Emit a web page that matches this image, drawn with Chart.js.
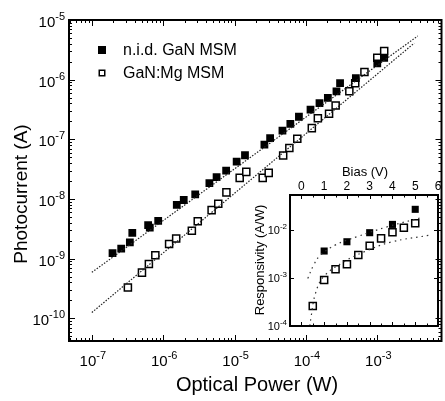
<!DOCTYPE html>
<html>
<head>
<meta charset="utf-8">
<script src="https://cdn.jsdelivr.net/npm/chart.js@4.4.0/dist/chart.umd.min.js"></script>
<style>
html, body { margin: 0; padding: 0; background: #fff; overflow: hidden }
#wrap { position: relative; width: 445px; height: 401px; overflow: hidden }
#main { position: absolute; left: 0; top: 0 }
#inset { position: absolute; left: 245px; top: 160px }
</style>
</head>
<body>
<div id="wrap">
  <canvas id="main" width="448" height="401"></canvas>
  <canvas id="inset" width="200" height="185"></canvas>
</div>
<script>
// main plot: photocurrent vs optical power
const nidPower = [1.95e-7, 2.58e-7, 3.41e-7, 3.69e-7, 6.15e-7, 6.49e-7, 8.51e-7, 1.55e-6, 1.94e-6, 2.81e-6,
    4.44e-6, 5.6e-6, 7.62e-6, 1.07e-5, 1.4e-5, 2.62e-5, 3.15e-5, 4.69e-5, 6.05e-5, 7.98e-5,
    1.16e-4, 1.55e-4, 2.03e-4, 2.68e-4, 3.01e-4, 5.01e-4, 1.0e-3, 1.25e-3]
const nidCurrent = [1.24e-9, 1.47e-9, 1.88e-9, 2.71e-9, 3.65e-9, 3.32e-9, 4.3e-9, 7.94e-9, 9.62e-9, 1.2e-8,
    1.85e-8, 2.33e-8, 2.99e-8, 4.22e-8, 5.41e-8, 8.16e-8, 1.05e-7, 1.4e-7, 1.81e-7, 2.39e-7,
    3.16e-7, 4.03e-7, 4.95e-7, 6.38e-7, 8.74e-7, 1.06e-6, 1.87e-6, 2.33e-6]
const mgPower = [3.2e-7, 5.04e-7, 6.3e-7, 7.76e-7, 1.21e-6, 1.52e-6, 2.52e-6, 3.05e-6, 4.77e-6, 5.91e-6,
    7.69e-6, 1.18e-5, 1.46e-5, 2.48e-5, 3.01e-5, 4.8e-5, 5.86e-5, 7.57e-5, 1.21e-4, 1.47e-4,
    2.11e-4, 2.61e-4, 4.06e-4, 4.91e-4, 6.61e-4, 1.0e-3, 1.25e-3]
const mgCurrent = [3.29e-10, 5.84e-10, 8.16e-10, 1.14e-9, 1.76e-9, 2.17e-9, 2.93e-9, 4.23e-9, 6.51e-9, 8.35e-9,
    1.29e-8, 2.26e-8, 2.85e-8, 2.26e-8, 2.74e-8, 5.37e-8, 7.16e-8, 1.02e-7, 1.54e-7, 2.26e-7,
    2.69e-7, 3.69e-7, 6.38e-7, 8.68e-7, 1.34e-6, 2.33e-6, 3.01e-6]
const nidFitPower = [1e-7, 3.7e-3]
const nidFitCurrent = [5.9e-10, 5.4e-6]
const mgFitPower = [1e-7, 3.3e-3]
const mgFitCurrent = [1.25e-10, 4.1e-6]
const powerTicks = [1e-7, 1e-6, 1e-5, 1e-4, 1e-3]
const currentTicks = [1e-10, 1e-9, 1e-8, 1e-7, 1e-6, 1e-5]
const seriesNames = ["n.i.d. GaN MSM", "GaN:Mg MSM"]

// inset: responsivity vs bias
const nidBias = [1, 2, 3, 4, 5]
const nidResp = [3.65e-3, 5.7e-3, 8.8e-3, 1.31e-2, 2.7e-2]
const mgBias = [0.5, 1, 1.5, 2, 2.5, 3, 3.5, 4, 4.5, 5]
const mgResp = [2.61e-4, 9.1e-4, 1.52e-3, 1.93e-3, 3.01e-3, 4.71e-3, 6.7e-3, 8.96e-3, 1.12e-2, 1.38e-2]
const nidFitBias = [0.28, 0.54, 0.84, 1.5, 2.46, 3.78, 5.32]
const nidFitResp = [9.8e-4, 1.87e-3, 3.0e-3, 4.9e-3, 7.3e-3, 1.17e-2, 1.84e-2]
const mgFitBias = [0.37, 0.43, 0.62, 0.98, 1.87, 2.75, 3.93, 5.69]
const mgFitResp = [1e-4, 1.6e-4, 4.8e-4, 1.07e-3, 2.18e-3, 3.5e-3, 5.6e-3, 7.9e-3]
const biasTicks = [0, 1, 2, 3, 4, 5, 6]
const respTicks = [1e-4, 1e-3, 1e-2]

const FONT = "'Liberation Sans', Arial, sans-serif"
const pts = (xs, ys) => xs.map((v, i) => ({ x: v, y: ys[i] }))

// tick positions along a scale: log decades with 2..9 minors, or linear with a minor step
function tickList(scale, minorStep) {
    const out = []
    if (scale.type === "logarithmic") {
        const d0 = Math.floor(Math.log10(scale.min)), d1 = Math.ceil(Math.log10(scale.max))
        for (let d = d0; d <= d1; d++)
            for (let m = 1; m < 10; m++) {
                const v = m * Math.pow(10, d)
                if (v >= scale.min * 0.999 && v <= scale.max * 1.001) out.push({ v, major: m === 1 })
            }
    } else {
        for (let v = Math.ceil(scale.min / minorStep) * minorStep; v <= scale.max + 1e-9; v += minorStep)
            out.push({ v, major: Math.abs(v - Math.round(v)) < 1e-6 })
    }
    return out
}

function sciLabel(ctx, v, px, baseY, align, big, small, rise) {
    const e = String(Math.round(Math.log10(v)))
    ctx.font = big + "px " + FONT
    const w1 = ctx.measureText("10").width
    ctx.font = small + "px " + FONT
    const w2 = ctx.measureText(e).width
    const x0 = align === "right" ? px - w1 - w2 : px - (w1 + w2) / 2
    ctx.textAlign = "left"
    ctx.textBaseline = "alphabetic"
    ctx.font = big + "px " + FONT
    ctx.fillText("10", x0, baseY)
    ctx.font = small + "px " + FONT
    ctx.fillText(e, x0 + w1, baseY - rise)
}

const decor = {
    id: "decor",
    afterDraw(chart, args, o) {
        const { ctx, chartArea: a } = chart
        const xs = chart.scales.x, ys = chart.scales.y
        ctx.save()
        ctx.strokeStyle = "#000"
        ctx.fillStyle = "#000"
        ctx.lineWidth = o.frame
        ctx.strokeRect(a.left, a.top, a.right - a.left, a.bottom - a.top)
        ctx.lineWidth = 1
        ctx.beginPath()
        tickList(xs, o.xStep).forEach(t => {
            const p = Math.round(xs.getPixelForValue(t.v)) + 0.5
            const l = t.major ? o.major : o.minor
            ctx.moveTo(p, a.bottom); ctx.lineTo(p, a.bottom - l)
            ctx.moveTo(p, a.top); ctx.lineTo(p, a.top + l)
        })
        tickList(ys, o.yStep).forEach(t => {
            if (o.yMajorOnly && !t.major) return
            const p = Math.round(ys.getPixelForValue(t.v)) + 0.5
            const l = t.major ? o.major : o.minor
            ctx.moveTo(a.left, p); ctx.lineTo(a.left + l, p)
            ctx.moveTo(a.right, p); ctx.lineTo(a.right - l, p)
        })
        ctx.stroke()
        o.draw(chart, ctx, a, xs, ys)
        ctx.restore()
    }
}

function marker(ctx, x, y, filled, s) {
    if (filled) ctx.fillRect(x - s / 2, y - s / 2, s, s)
    else { ctx.lineWidth = 1.5; ctx.strokeRect(x - s / 2 + 0.75, y - s / 2 + 0.75, s - 1.5, s - 1.5) }
}

const fixSize = (w, h) => scale => { if (w != null) scale.width = w; if (h != null) scale.height = h }

new Chart(document.getElementById("main"), {
    type: "scatter",
    data: {
        datasets: [
            { label: "fit1", data: pts(nidFitPower, nidFitCurrent), showLine: true, pointRadius: 0,
              borderColor: "#222", borderWidth: 1.2, borderDash: [1.5, 1.5] },
            { label: "fit2", data: pts(mgFitPower, mgFitCurrent), showLine: true, pointRadius: 0,
              borderColor: "#222", borderWidth: 1.2, borderDash: [1.5, 1.5] },
            { label: seriesNames[0], data: pts(nidPower, nidCurrent), pointStyle: "rect", pointRadius: 5.5,
              backgroundColor: "#000", borderColor: "#000", borderWidth: 0 },
            { label: seriesNames[1], data: pts(mgPower, mgCurrent), pointStyle: "rect", pointRadius: 5,
              backgroundColor: "#fff", borderColor: "#000", borderWidth: 1.5 }
        ]
    },
    options: {
        responsive: false,
        animation: false,
        layout: { padding: { top: 20, right: 2, left: 0, bottom: 0 } },
        plugins: {
            legend: { display: false },
            tooltip: { enabled: false },
            decor: {
                frame: 2, major: 6, minor: 3,
                draw(chart, ctx, a, xs, ys) {
                    powerTicks.forEach(v => sciLabel(ctx, v, xs.getPixelForValue(v) + 1, 366, "center", 15, 11, 7))
                    currentTicks.forEach(v => sciLabel(ctx, v, 65, ys.getPixelForValue(v) + 7, "right", 15, 11, 7))
                    ctx.font = "20px " + FONT
                    ctx.textAlign = "center"
                    ctx.textBaseline = "middle"
                    ctx.fillText("Optical Power (W)", 257, 385)
                    ctx.save()
                    ctx.translate(22, 194)
                    ctx.rotate(-Math.PI / 2)
                    ctx.font = "19px " + FONT
                    ctx.fillText("Photocurrent (A)", 0, 0)
                    ctx.restore()
                    ctx.font = "16px " + FONT
                    ctx.textAlign = "left"
                    seriesNames.forEach((n, i) => {
                        const yy = 50 + i * 23
                        marker(ctx, 102, yy, i === 0, i === 0 ? 8 : 7)
                        ctx.fillText(n, 123, yy + 1)
                    })
                }
            }
        },
        scales: {
            x: {
                type: "logarithmic", min: Math.pow(10, -7.32), max: Math.pow(10, -2.1),
                afterFit: fixSize(null, 60),
                afterBuildTicks: s => { s.ticks = powerTicks.map(v => ({ value: v })) },
                ticks: { display: false }, grid: { display: false }, border: { display: false }
            },
            y: {
                type: "logarithmic", min: Math.pow(10, -10.38), max: 1e-5,
                afterFit: fixSize(69, null),
                afterBuildTicks: s => { s.ticks = currentTicks.map(v => ({ value: v })) },
                ticks: { display: false }, grid: { display: false }, border: { display: false }
            }
        }
    },
    plugins: [decor]
})

new Chart(document.getElementById("inset"), {
    type: "scatter",
    data: {
        datasets: [
            { label: "fit1", data: pts(nidFitBias, nidFitResp), showLine: true, pointRadius: 0, tension: 0.4,
              borderColor: "#333", borderWidth: 1.2, borderDash: [1.5, 4] },
            { label: "fit2", data: pts(mgFitBias, mgFitResp), showLine: true, pointRadius: 0, tension: 0.4,
              borderColor: "#333", borderWidth: 1.2, borderDash: [1.5, 4] },
            { label: seriesNames[0], data: pts(nidBias, nidResp), pointStyle: "rect", pointRadius: 5,
              backgroundColor: "#000", borderColor: "#000", borderWidth: 0 },
            { label: seriesNames[1], data: pts(mgBias, mgResp), pointStyle: "rect", pointRadius: 5,
              backgroundColor: "#fff", borderColor: "#000", borderWidth: 1.5 }
        ]
    },
    options: {
        responsive: false,
        animation: false,
        layout: { padding: { top: 0, right: 7, left: 0, bottom: 19 } },
        plugins: {
            legend: { display: false },
            tooltip: { enabled: false },
            decor: {
                frame: 2, major: 4, minor: 2.5, xStep: 0.5, yMajorOnly: true,
                draw(chart, ctx, a, xs, ys) {
                    ctx.font = "12px " + FONT
                    ctx.textAlign = "center"
                    ctx.textBaseline = "middle"
                    biasTicks.forEach(v => ctx.fillText(String(v), xs.getPixelForValue(v), 27))
                    ctx.font = "13px " + FONT
                    ctx.fillText("Bias (V)", 120, 12)
                    respTicks.forEach(v => sciLabel(ctx, v, 42, ys.getPixelForValue(v) + 4, "right", 11, 8, 5))
                    ctx.save()
                    ctx.translate(15, 100)
                    ctx.rotate(-Math.PI / 2)
                    ctx.font = "13px " + FONT
                    ctx.textAlign = "center"
                    ctx.textBaseline = "middle"
                    ctx.fillText("Responsivity (A/W)", 0, 0)
                    ctx.restore()
                }
            }
        },
        scales: {
            x: {
                type: "linear", position: "top", min: -0.5, max: 6,
                afterFit: fixSize(null, 35),
                afterBuildTicks: s => { s.ticks = biasTicks.map(v => ({ value: v })) },
                ticks: { display: false }, grid: { display: false }, border: { display: false }
            },
            y: {
                type: "logarithmic", min: 1e-4, max: Math.pow(10, -1.27),
                afterFit: fixSize(45, null),
                afterBuildTicks: s => { s.ticks = respTicks.map(v => ({ value: v })) },
                ticks: { display: false }, grid: { display: false }, border: { display: false }
            }
        }
    },
    plugins: [decor]
})
</script>
</body>
</html>
